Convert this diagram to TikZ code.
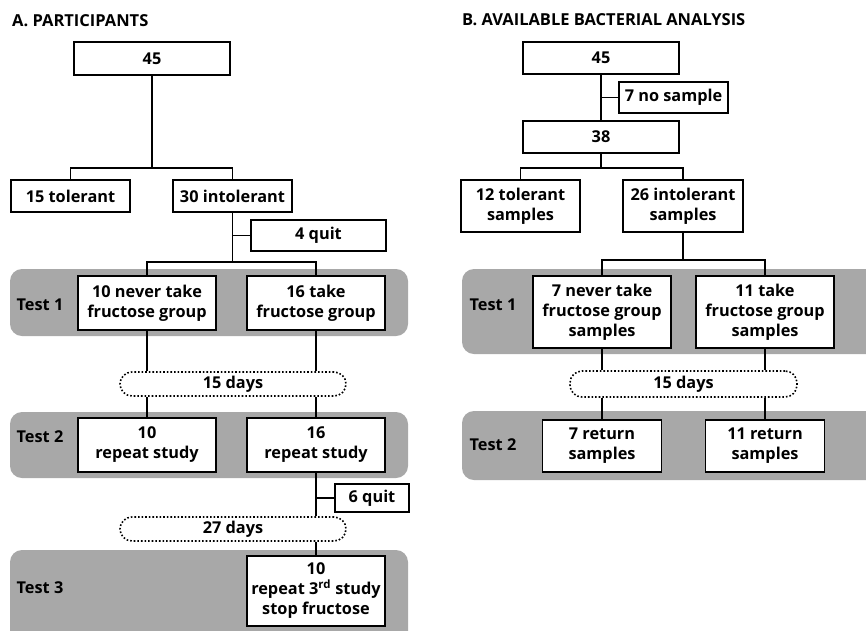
\documentclass[tikz,border=0pt]{standalone}
\usepackage{fontspec}
\setmainfont{Open Sans}
\definecolor{bandgray}{RGB}{168,168,168}
\tikzset{
  txt/.style={font=\bfseries\fontsize{16.3}{20}\selectfont},
  box/.style={txt, draw=black, line width=1.6pt, fill=white, inner sep=0pt, align=center},
  daybox/.style={txt, draw=black, line width=1.6pt, dotted, rounded corners=12pt, fill=white, inner sep=0pt, align=center},
  band/.style={fill=bandgray, rounded corners=12pt},
  conn/.style={line width=1.8pt},
  testlbl/.style={txt},
  title/.style={font=\bfseries\fontsize{16.5}{19}\selectfont, anchor=base west, inner sep=0pt}
}
\begin{document}
\begin{tikzpicture}[x=1pt,y=-1pt]
\useasboundingbox (0,0) rectangle (866,630);
\clip (0,0) rectangle (866,630);
\fill[white] (0,0) rectangle (866,630);
% titles
\node[title] (ta) at (12,26) {A. PARTICIPANTS};
\node[title] (tb) at (462,25) {B. AVAILABLE BACTERIAL ANALYSIS};
% bands
\fill[band] (10,269) rectangle (408,336);
\fill[band] (10,412) rectangle (408,478);
\fill[band] (10,550) rectangle (408,650);
\fill[band] (462,269) rectangle (890,354);
\fill[band] (462,411) rectangle (890,480);
\node[testlbl] (la1) at (40,305) {Test 1};
\node[testlbl] (la2) at (40,437) {Test 2};
\node[testlbl] (la3) at (40,588) {Test 3};
\node[testlbl] (lb1) at (493,305) {Test 1};
\node[testlbl] (lb2) at (493,445) {Test 2};
% panel A nodes
\node[box, minimum width=156, minimum height=33] (a45) at (152,58.5) {45};
\node[box, minimum width=119, minimum height=32] (a15) at (70.5,196) {15 tolerant};
\node[box, minimum width=119, minimum height=32] (a30) at (232.5,196) {30 intolerant};
\node[box, minimum width=135, minimum height=31] (aq4) at (318.5,235.5) {4 quit};
\node[box, minimum width=138, minimum height=54] (a10) at (147,303) {10 never take\\fructose group};
\node[box, minimum width=138, minimum height=54] (a16) at (316,303) {16 take\\fructose group};
\node[daybox, minimum width=226, minimum height=24] (ad15) at (233,384) {15 days};
\node[box, minimum width=138, minimum height=54] (a10r) at (147,445) {10\\repeat study};
\node[box, minimum width=138, minimum height=54] (a16r) at (316,445) {16\\repeat study};
\node[box, minimum width=74, minimum height=28] (aq6) at (372,498) {6 quit};
\node[daybox, minimum width=226, minimum height=24] (ad27) at (233,529) {27 days};
\node[box, minimum width=138, minimum height=70] (a10s) at (316,591) {10\\repeat 3\textsuperscript{rd} study\\stop fructose};
% panel A connectors
\coordinate (j1) at (152,168);
\coordinate (j2) at (232.5,262);
\draw[conn] (a45.south) -- (j1);
\draw[conn] (a15.north) |- (j1) -| (a30.north);
\draw[conn] (a30.south) -- (j2);
\draw[conn] (a30.south |- aq4.west) -- (aq4.west);
\draw[conn] (a10.north) |- (j2) -| (a16.north);
\draw[conn] (a10.south) -- (a10.south |- ad15.north);
\draw[conn] (a16.south) -- (a16.south |- ad15.north);
\draw[conn] (a10r.north |- ad15.south) -- (a10r.north);
\draw[conn] (a16r.north |- ad15.south) -- (a16r.north);
\draw[conn] (a16r.south) -- (a16r.south |- ad27.north);
\draw[conn] (a16r.south |- aq6.west) -- (aq6.west);
\draw[conn] (a10s.north |- ad27.south) -- (a10s.north);
% panel B nodes
\node[box, minimum width=156, minimum height=32] (b45) at (601,58) {45};
\node[box, minimum width=109, minimum height=31] (bns) at (673.5,97.5) {7 no sample};
\node[box, minimum width=156, minimum height=32] (b38) at (601,137) {38};
\node[box, minimum width=119, minimum height=52] (b12) at (520.5,206) {12 tolerant\\samples};
\node[box, minimum width=120, minimum height=52] (b26) at (683,206) {26 intolerant\\samples};
\node[box, minimum width=138, minimum height=72] (b7) at (602,312) {7 never take\\fructose group\\samples};
\node[box, minimum width=138, minimum height=72] (b11) at (765,312) {11 take\\fructose group\\samples};
\node[daybox, minimum width=227, minimum height=26] (bd15) at (683.5,384) {15 days};
\node[box, minimum width=119, minimum height=52] (b7r) at (602,446) {7 return\\samples};
\node[box, minimum width=119, minimum height=52] (b11r) at (765,446) {11 return\\samples};
% panel B connectors
\coordinate (jb1) at (601,168);
\coordinate (jb2) at (683,260);
\draw[conn] (b45.south) -- (b38.north);
\draw[conn] (b45.south |- bns.west) -- (bns.west);
\draw[conn] (b38.south) -- (jb1);
\draw[conn] (b12.north) |- (jb1) -| (b26.north);
\draw[conn] (b26.south) -- (jb2);
\draw[conn] (b7.north) |- (jb2) -| (b11.north);
\draw[conn] (b7.south) -- (b7.south |- bd15.north);
\draw[conn] (b11.south) -- (b11.south |- bd15.north);
\draw[conn] (b7r.north |- bd15.south) -- (b7r.north);
\draw[conn] (b11r.north |- bd15.south) -- (b11r.north);
\end{tikzpicture}
\end{document}
